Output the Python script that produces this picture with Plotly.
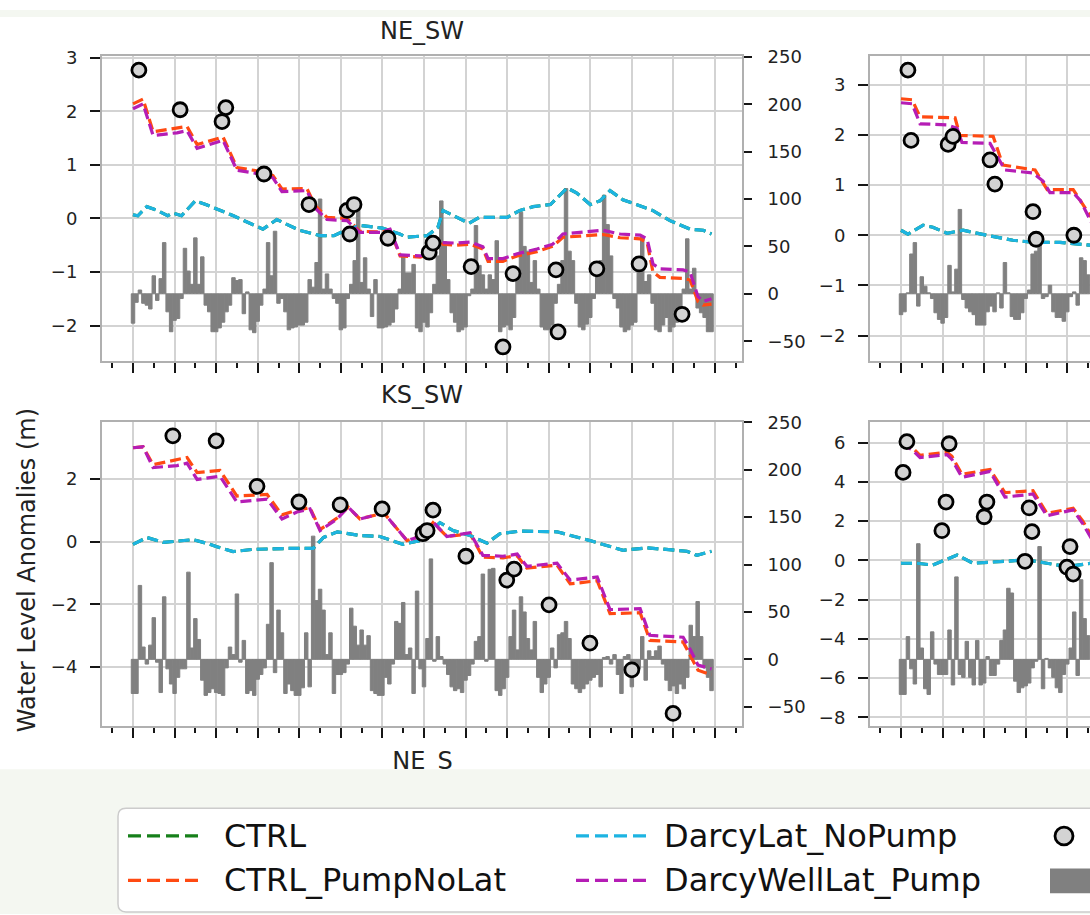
import plotly.graph_objects as go

W, H = 1090, 915

# ------------------------------------------------------------------ data
# x = months since the first January of the record (major ticks every January)
months_full = list(range(168))
months_part = list(range(55))

# monthly grey bars (right axis)
ne_sw_precip = [
    -31, -9, 4, -10, -12, -16, 19, -7, 16, 54, -19, -40,
    -28, -26, -5, 48, 24, 10, 59, 10, 39, -12, -19, -40,
    -40, -36, -30, -19, -12, 17, 14, 15, -21, 2, -38, -41,
    -29, -12, 5, 54, 19, 66, -10, -5, -19, -38, -36, -35,
    -33, -33, -30, 15, 7, 33, 100, 5, 21, 5, -5, -10,
    -38, -36, -5, 10, 35, 95, 12, 38, 5, -24, 15, -36,
    -36, -35, -33, -30, -16, 5, 40, 22, 22, 31, -36, -40,
    -30, -35, -20, 10, 40, 98, 55, 15, -20, -30, -40, -38,
    -35, -2, 5, 72, 30, 20, 5, 20, 15, 56, -40, -35,
    -33, -38, -25, 20, 86, 50, 45, 12, 35, 5, -35, -38,
    -38, -33, -10, 10, 35, 111, 45, 35, -10, -35, -38, -32,
    -25, -5, 20, 35, 104, 73, 40, -5, -15, -35, -40, -38,
    -33, -30, 30, 60, 13, 20, -10, -38, -40, -33, -25, -40,
    -35, -30, -20, 5, 58, 5, 27, -15, -20, -25, -40, -40,
]
ks_sw_precip = [
    -36, -36, 78, 13, -5, 15, 44, -3, -35, 66, -10, -26,
    -36, -19, -10, -10, 92, 12, 43, 21, -22, -38, -35, -31,
    -35, -36, -38, -9, 13, 5, 69, -3, 20, -36, -33, -38,
    -21, -16, -9, 37, 102, -14, 52, 28, -36, -26, -33, -38,
    -38, -30, 28, -29, 130, 62, 74, 52, 5, 28, -36, -16,
    -16, -14, -5, 54, 35, 15, 31, 15, 25, -33, -36, -38,
    -38, -19, -26, -5, 40, 38, 60, 5, 12, -36, 72, -10,
    -29, 22, 106, -2, 24, 3, -5, -16, -29, -33, -31, -35,
    -22, -17, -5, 19, 24, 90, -2, 95, 96, -33, -38, -31,
    -19, 24, 52, 10, 66, 50, 22, 10, 40, -19, -35, -26,
    -19, 12, -9, 26, 28, 40, 22, -26, -31, -35, -31, -26,
    -22, -19, -16, -29, 2, 3, -5, 5, -16, -36, 3, 5,
    -29, -5, -10, 24, -22, 9, 3, 9, 14, -5, -22, -33,
    -28, -36, -26, -31, -19, 36, 24, 61, 24, -9, -19, -33,
]
top_right_precip = [
    -22, -19, 1, 42, 54, -13, 18, 8, 1, -5, -20, -27,
    -31, -25, 30, 2, 26, 89, -6, -15, -19, -22, -33, -33,
    -33, -19, -13, -19, 1, -15, 33, 1, -24, -27, -27, -20,
    -5, 4, 42, 45, 54, -5, -3, 9, -19, -25, -25, -29,
    -19, -3, 2, -12, 38, 35, 20,
]
bottom_right_precip = [
    -37, -37, 24, -10, -26, 122, 12, -31, -37, 29, -5, -16,
    -16, -16, 31, -27, 87, -16, -19, 19, -19, -27, 20, -27,
    -25, 3, -17, -17, -5, 20, 31, 75, 70, -23, -35, -30,
    -28, -25, -9, -2, 119, -31, 1, -9, -19, -30, -35, -16,
    -5, 12, 50, -17, 84, 43, 25,
]

# ---- NE_SW (left axis, water level anomalies)
ne_sw_lat_m = [0, 1.4, 4, 7, 10, 11.5, 14, 16, 18, 21, 29, 37.5, 41.5, 48, 54, 58, 62, 65.5, 72, 77,
               79, 85, 88, 89.5, 97, 100, 108, 111.7, 115.5, 120.5, 122.4, 125.3, 128, 132, 134.8,
               137.7, 141.4, 145.5, 150, 155, 160.8, 164.6, 167]
ne_sw_lat_v = [0.07, 0.05, 0.22, 0.15, 0.05, 0.1, 0.05, 0.2, 0.33, 0.26, 0.05, -0.2, -0.02, -0.22,
               -0.32, -0.32, -0.2, -0.13, -0.18, -0.29, -0.35, -0.32, -0.17, 0.15, -0.09, 0.02, 0.02,
               0.15, 0.22, 0.26, 0.39, 0.57, 0.48, 0.26, 0.33, 0.52, 0.35, 0.26, 0.15, -0.04, -0.2,
               -0.22, -0.29]
ne_sw_ctrl_v = list(ne_sw_lat_v)
ne_sw_pump_m = [0, 2.9, 5.8, 12.7, 15.6, 18.5, 26, 30, 36.7, 40.4, 43, 50.2, 52.5, 56, 61.8, 65.5,
                71.3, 74.2, 77.1, 82.9, 85.2, 89.2, 93.5, 97.3, 101, 102.5, 106.8, 110.9, 116.6,
                121.2, 124.1, 129, 135.7, 140.6, 146.4, 148.4, 150.1, 152.1, 158.8, 160.8, 161.7,
                163.1, 164.6, 167]
ne_sw_welllat_v = [2.05, 2.14, 1.55, 1.6, 1.64, 1.31, 1.46, 0.9, 0.83, 0.76, 0.5, 0.52, 0.2, -0.02,
                   -0.04, -0.26, -0.26, -0.2, -0.68, -0.7, -0.66, -0.45, -0.46, -0.44, -0.53, -0.75,
                   -0.75, -0.66, -0.57, -0.48, -0.29, -0.26, -0.22, -0.29, -0.31, -0.38, -0.85, -0.94,
                   -0.96, -1.0, -1.18, -1.46, -1.55, -1.5]
ne_sw_pumpnolat_v = [2.14, 2.23, 1.62, 1.68, 1.72, 1.38, 1.52, 0.95, 0.88, 0.8, 0.55, 0.56, 0.25,
                     0.02, 0.0, -0.24, -0.25, -0.22, -0.7, -0.72, -0.68, -0.48, -0.5, -0.48, -0.57,
                     -0.8, -0.8, -0.7, -0.62, -0.52, -0.35, -0.33, -0.3, -0.36, -0.38, -0.45, -1.0,
                     -1.1, -1.12, -1.15, -1.3, -1.55, -1.62, -1.6]
ne_sw_obs_m = [1.7, 13.6, 25.7, 26.8, 37.8, 50.8, 61.8, 62.6, 63.8, 73.6, 85.5, 86.6, 97.6, 106.8,
               109.7, 122.1, 122.7, 133.9, 146.1, 158.5]
ne_sw_obs_v = [2.77, 2.03, 1.81, 2.07, 0.83, 0.26, 0.15, -0.29, 0.26, -0.37, -0.63, -0.46, -0.9,
               -2.4, -1.03, -0.96, -2.12, -0.94, -0.85, -1.79]

# ---- KS_SW
ks_sw_lat_m = [0, 4, 8.7, 17.3, 21.4, 24, 28.9, 34.6, 45.3, 52, 55, 59, 65.5, 71.3, 77.9, 82.9,
               88.6, 92.4, 97.3, 102.2, 105.9, 111.7, 122.4, 131.9, 141.5, 148.4, 159.9, 162.8, 167]
ks_sw_lat_v = [-0.09, 0.13, -0.03, 0.06, -0.06, -0.16, -0.32, -0.25, -0.22, -0.22, 0.13, 0.31, 0.19,
               0.16, -0.09, 0.03, 0.6, 0.35, 0.19, -0.05, 0.25, 0.33, 0.31, 0.03, -0.28, -0.2, -0.31,
               -0.44, -0.31]
ks_sw_ctrl_v = list(ks_sw_lat_v)
ks_sw_pump_m = [0, 2.9, 5.8, 12.7, 15.6, 18.5, 25.1, 30, 38.7, 43, 47.3, 51.1, 54, 58.9, 62.1, 65.5,
                71.3, 72.2, 79.1, 83.7, 86.6, 90.6, 97.3, 101, 106.8, 110.9, 113.7, 122.4, 126.2,
                134, 137.7, 146.4, 149.2, 158.8, 160.8, 163.1, 167]
ks_sw_welllat_v = [2.99, 3.02, 2.36, 2.42, 2.5, 1.98, 2.08, 1.26, 1.35, 0.72, 0.94, 1.04, 0.35, 0.72,
                   1.1, 0.72, 0.88, 0.94, 0.03, 0.19, 0.63, 0.16, 0.28, -0.44, -0.47, -0.4, -0.79,
                   -0.69, -1.23, -1.13, -2.17, -2.14, -2.99, -3.05, -3.43, -3.94, -4.06]
ks_sw_pumpnolat_v = [2.99, 3.02, 2.45, 2.61, 2.68, 2.2, 2.27, 1.45, 1.5, 0.85, 1.0, 1.08, 0.38, 0.75,
                     1.1, 0.72, 0.88, 0.94, 0.03, 0.19, 0.6, 0.16, 0.25, -0.5, -0.52, -0.45, -0.85,
                     -0.75, -1.35, -1.25, -2.3, -2.27, -3.15, -3.2, -3.6, -4.1, -4.25]
ks_sw_obs_m = [11.5, 24, 35.8, 47.9, 59.8, 71.9, 83.7, 84.9, 86.6, 96.1, 107.9, 110, 120.1, 131.9,
               144, 155.9]
ks_sw_obs_v = [3.37, 3.21, 1.76, 1.26, 1.17, 1.04, 0.25, 0.35, 1.0, -0.47, -1.23, -0.88, -2.02,
               -3.24, -4.09, -5.48]

# ---- top-right panel (title outside the visible area)
tr_lat_m = [0, 2, 6.4, 9.2, 13.3, 17.9, 24.8, 32.3, 38.1, 45.9, 55]
tr_lat_v = [0.1, 0.02, 0.2, 0.16, 0.04, 0.1, 0.0, -0.1, -0.14, -0.14, -0.2]
tr_ctrl_v = list(tr_lat_v)
tr_welllat_m = [0, 3.2, 5.5, 13.3, 16.2, 17.6, 25.7, 30, 38.1, 41, 43, 49.7, 51.8, 55]
tr_welllat_v = [2.64, 2.62, 2.22, 2.2, 2.13, 1.85, 1.83, 1.3, 1.24, 1.08, 0.85, 0.85, 0.69, 0.25]
tr_pumpnolat_m = [0, 3.2, 5.5, 15.6, 17, 26.6, 29.4, 38.7, 42.2, 49.7, 55]
tr_pumpnolat_v = [2.72, 2.7, 2.36, 2.34, 1.99, 1.97, 1.4, 1.3, 0.91, 0.91, 0.35]
tr_obs_m = [2.0, 2.9, 13.6, 15, 25.7, 27.1, 38.1, 39, 49.9]
tr_obs_v = [3.29, 1.89, 1.81, 1.97, 1.5, 1.02, 0.47, -0.08, 0.0]

# ---- bottom-right panel
br_lat_m = [0, 4.6, 9.2, 16.2, 20.8, 28.6, 36.4, 42.1, 47.9, 55]
br_lat_v = [-0.15, -0.15, -0.24, 0.27, -0.15, -0.07, 0.02, -0.15, -0.32, -0.15]
br_ctrl_v = list(br_lat_v)
br_pump_m = [0, 3.2, 5.5, 13.3, 14.7, 17.6, 25.7, 30, 38.1, 42.1, 49.7, 52.5, 55]
br_welllat_v = [5.9, 5.64, 5.24, 5.39, 5.14, 4.23, 4.53, 3.22, 3.38, 2.27, 2.57, 1.86, 1.1]
br_pumpnolat_v = [6.0, 5.75, 5.35, 5.5, 5.3, 4.38, 4.63, 3.45, 3.55, 2.4, 2.65, 2.0, 1.25]
br_obs_m = [0.6, 1.7, 11.8, 13, 13.9, 24, 24.8, 35.8, 37, 37.8, 47.9, 48.8, 49.7]
br_obs_v = [4.48, 6.05, 1.51, 2.97, 5.94, 2.22, 2.97, -0.05, 2.67, 1.46, -0.35, 0.7, -0.7]

series_names = ["CTRL", "CTRL_PumpNoLat", "DarcyLat_NoPump", "DarcyWellLat_Pump"]
precip_ticks = [-50, 0, 50, 100, 150, 200, 250]

# ------------------------------------------------------------------ style
FONT = "DejaVu Sans"
FRAME = "#b0b0b0"
GRID = "#d3d3d3"
TICK = "#161616"
TXT = "#222222"
PALE = "#f4f7f1"
C_CTRL = "#16801a"
C_PNL = "#ff4a12"
C_LAT = "#1db4e2"
C_WELL = "#b51db5"
DASH = "11px,5px"


def px(x):
    return x / W


def py(y):
    return 1 - y / H


PX_PER_MONTH = 640 / 184.75
col_dom = [[px(102), px(742)], [px(870), 1.0]]
col_rng = [[-8.95, 175.8], [-8.95, -8.95 + 220 / PX_PER_MONTH]]
row_dom = [[py(355), py(47)], [py(725), py(417)]]
PRECIP_RANGE = [-70.6, 250.4]

panels = [
    dict(row=0, col=0, bar_m=months_full, bar_v=ne_sw_precip,
         lines=[(ne_sw_lat_m, ne_sw_ctrl_v, C_CTRL), (ne_sw_pump_m, ne_sw_pumpnolat_v, C_PNL),
                (ne_sw_lat_m, ne_sw_lat_v, C_LAT), (ne_sw_pump_m, ne_sw_welllat_v, C_WELL)],
         obs=(ne_sw_obs_m, ne_sw_obs_v), wl_range=[-2.657, 3.026], wl_ticks=[-2, -1, 0, 1, 2, 3]),
    dict(row=0, col=1, bar_m=months_part, bar_v=top_right_precip,
         lines=[(tr_lat_m, tr_ctrl_v, C_CTRL), (tr_pumpnolat_m, tr_pumpnolat_v, C_PNL),
                (tr_lat_m, tr_lat_v, C_LAT), (tr_welllat_m, tr_welllat_v, C_WELL)],
         obs=(tr_obs_m, tr_obs_v), wl_range=[-2.5, 3.563], wl_ticks=[-2, -1, 0, 1, 2, 3]),
    dict(row=1, col=0, bar_m=months_full, bar_v=ks_sw_precip,
         lines=[(ks_sw_lat_m, ks_sw_ctrl_v, C_CTRL), (ks_sw_pump_m, ks_sw_pumpnolat_v, C_PNL),
                (ks_sw_lat_m, ks_sw_lat_v, C_LAT), (ks_sw_pump_m, ks_sw_welllat_v, C_WELL)],
         obs=(ks_sw_obs_m, ks_sw_obs_v), wl_range=[-5.89, 3.811], wl_ticks=[-4, -2, 0, 2]),
    dict(row=1, col=1, bar_m=months_part, bar_v=bottom_right_precip,
         lines=[(br_lat_m, br_ctrl_v, C_CTRL), (br_pump_m, br_pumpnolat_v, C_PNL),
                (br_lat_m, br_lat_v, C_LAT), (br_pump_m, br_welllat_v, C_WELL)],
         obs=(br_obs_m, br_obs_v), wl_range=[-8.46, 7.05], wl_ticks=[-8, -6, -4, -2, 0, 2, 4, 6]),
]

fig = go.Figure()
layout = {}
tickfont = dict(family=FONT, size=18, color=TXT)

for k, p in enumerate(panels, start=1):
    xa = "x" if k == 1 else f"x{k}"
    yb_n, yw_n = 2 * k - 1, 2 * k
    yb = "y" if yb_n == 1 else f"y{yb_n}"
    yw = f"y{yw_n}"
    xkey = "xaxis" if k == 1 else f"xaxis{k}"
    ybkey = "yaxis" if yb_n == 1 else f"yaxis{yb_n}"
    ywkey = f"yaxis{yw_n}"

    fig.add_trace(go.Bar(x=p["bar_m"], y=p["bar_v"], xaxis=xa, yaxis=yb, width=1.0,
                         marker=dict(color="#808080", line=dict(width=1, color="#808080")),
                         showlegend=False, hoverinfo="skip"))
    for (mx, vy, colr), nm in zip(p["lines"], series_names):
        fig.add_trace(go.Scatter(x=mx, y=vy, xaxis=xa, yaxis=yw, mode="lines", name=nm,
                                 line=dict(color=colr, width=3.2, dash=DASH),
                                 showlegend=False, hoverinfo="skip"))
    fig.add_trace(go.Scatter(x=p["obs"][0], y=p["obs"][1], xaxis=xa, yaxis=yw, mode="markers",
                             marker=dict(size=14, color="#d3d3d3", line=dict(color="#000000", width=2.8)),
                             showlegend=False, hoverinfo="skip"))

    visible_col = p["col"] == 0
    layout[xkey] = dict(domain=col_dom[p["col"]], range=col_rng[p["col"]], anchor=yb,
                        showline=True, mirror=True, linecolor=FRAME, linewidth=2,
                        ticks="outside", ticklen=10, tickwidth=2, tickcolor=TICK,
                        tickmode="linear", tick0=0, dtick=12, showticklabels=False,
                        showgrid=True, gridcolor=GRID, gridwidth=1.6, zeroline=False,
                        minor=dict(ticks="outside", ticklen=5, tickwidth=1.5, tickcolor=TICK,
                                   tick0=0, dtick=6, showgrid=False))
    layout[ybkey] = dict(domain=row_dom[p["row"]], range=PRECIP_RANGE, anchor=xa, side="right",
                         showline=True, linecolor=FRAME, linewidth=2, ticks="outside",
                         ticklen=8, tickwidth=2, tickcolor=TICK, tickmode="array",
                         tickvals=precip_ticks, tickfont=tickfont, showgrid=False,
                         zeroline=False, visible=visible_col, ticklabelstandoff=12)
    layout[ywkey] = dict(range=p["wl_range"], anchor=xa, overlaying=yb, side="left",
                         showline=True, linecolor=FRAME, linewidth=2, ticks="outside",
                         ticklen=10, tickwidth=2, tickcolor=TICK, tickmode="array",
                         tickvals=p["wl_ticks"], tickfont=tickfont, showgrid=True,
                         gridcolor=GRID, gridwidth=1.6, zeroline=False, ticklabelstandoff=9)

# partially visible title of the next row (its lower part is hidden by the crop band)
layout["xaxis5"] = dict(domain=[px(370), px(475)], range=[0, 1], visible=False, anchor="y9")
layout["yaxis9"] = dict(domain=[py(790), py(730)], range=[0, 1], visible=False, anchor="x5")
fig.add_trace(go.Scatter(x=[0.5], y=[0.47], xaxis="x5", yaxis="y9", mode="text", text=["NE_S"],
                         textposition="middle center",
                         textfont=dict(family=FONT, size=24, color=TXT),
                         showlegend=False, hoverinfo="skip"))

annotations = [
    dict(text="NE_SW", x=px(422), y=py(21), xref="paper", yref="paper", showarrow=False,
         xanchor="center", yanchor="middle", font=dict(family=FONT, size=24, color=TXT)),
    dict(text="KS_SW", x=px(422), y=py(390), xref="paper", yref="paper", showarrow=False,
         xanchor="center", yanchor="middle", font=dict(family=FONT, size=24, color=TXT)),
    dict(text="Water Level Anomalies (m)", x=px(27), y=py(567), xref="paper", yref="paper",
         showarrow=False, textangle=-90, xanchor="center", yanchor="middle",
         font=dict(family=FONT, size=24, color=TXT)),
]

# ---- legend (drawn by hand; the right part is outside the crop)
LEG_ROWS = [836, 881]
leg_entries = [
    (series_names[0], C_CTRL, 128, 198, 222, LEG_ROWS[0]),
    (series_names[1], C_PNL, 128, 198, 222, LEG_ROWS[1]),
    (series_names[2], C_LAT, 576, 646, 662, LEG_ROWS[0]),
    (series_names[3], C_WELL, 576, 646, 662, LEG_ROWS[1]),
]

shapes = [
    dict(type="rect", xref="paper", yref="paper", x0=0, x1=1, y0=0, y1=py(768.5),
         fillcolor=PALE, line=dict(width=0), layer="above"),
    dict(type="rect", xref="paper", yref="paper", x0=0, x1=1, y0=py(7), y1=1,
         fillcolor=PALE, line=dict(width=0), layer="above"),
]
bx0, bx1, by0, by1, r = 118, 1110, 808, 913, 8
rx, ry = r / W, r / H
path = (f"M {px(bx0)+rx},{py(by0)} L {px(bx1)},{py(by0)} L {px(bx1)},{py(by1)} "
        f"L {px(bx0)+rx},{py(by1)} Q {px(bx0)},{py(by1)} {px(bx0)},{py(by1)+ry} "
        f"L {px(bx0)},{py(by0)-ry} Q {px(bx0)},{py(by0)} {px(bx0)+rx},{py(by0)} Z")
shapes.append(dict(type="path", xref="paper", yref="paper", path=path, fillcolor="#ffffff",
                   line=dict(color="#cccccc", width=1.5), layer="above"))
for name, colr, hx0, hx1, tx, yy in leg_entries:
    shapes.append(dict(type="line", xref="paper", yref="paper", x0=px(hx0), x1=px(hx1),
                       y0=py(yy), y1=py(yy), line=dict(color=colr, width=3.2, dash="13px,6px"),
                       layer="above"))
    annotations.append(dict(text=name, x=px(tx), y=py(yy), xref="paper", yref="paper",
                            showarrow=False, xanchor="left", yanchor="middle",
                            font=dict(family=FONT, size=32, color="#111111")))
shapes.append(dict(type="circle", xref="paper", yref="paper", x0=px(1055), x1=px(1073),
                   y0=py(845), y1=py(827), fillcolor="#d3d3d3",
                   line=dict(color="#000000", width=2.8), layer="above"))
shapes.append(dict(type="rect", xref="paper", yref="paper", x0=px(1050), x1=px(1100),
                   y0=py(894), y1=py(869), fillcolor="#808080", line=dict(width=0),
                   layer="above"))

fig.update_layout(
    width=W, height=H, autosize=False,
    margin=dict(l=0, r=0, t=0, b=0, pad=0),
    paper_bgcolor="#ffffff", plot_bgcolor="rgba(0,0,0,0)",
    font=dict(family=FONT, size=18, color=TXT),
    showlegend=False, barmode="overlay", hovermode=False,
    annotations=annotations, shapes=shapes,
    **layout,
)

fig.write_html("out.html", config={"displayModeBar": False},
               post_script="document.body.style.margin='0';document.body.style.overflow='hidden';")
